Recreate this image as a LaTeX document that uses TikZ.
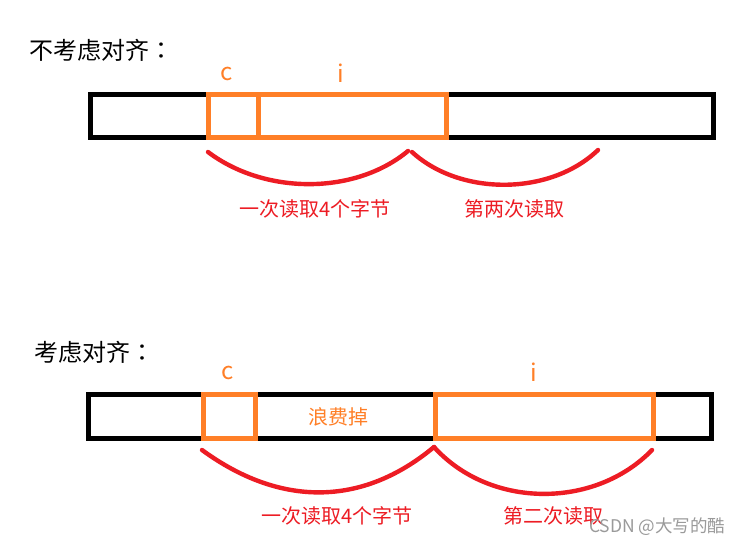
\documentclass[tikz,border=0pt]{standalone}
\usepackage{fontspec}
\setmainfont{Noto Sans CJK SC}
\newfontfamily\cjk{Noto Sans CJK SC}
\newfontfamily\cjktc{Noto Sans CJK TC}
\definecolor{porange}{HTML}{FF7F27}
\definecolor{pred}{HTML}{ED1C24}
\definecolor{wmgray}{HTML}{9A9A9A}
\tikzset{
  mem/.style={draw=black, line width=5pt},
  cell/.style={draw=porange, line width=4.6pt},
  brace/.style={draw=pred, line width=4.4pt, line cap=round},
  title/.style={font=\cjk\fontsize{24}{26}\selectfont, text=black, inner sep=0pt},
  var/.style={font=\cjk\fontsize{24}{26}\selectfont, text=porange, inner sep=0pt},
  note/.style={font=\cjk\fontsize{20}{22}\selectfont, text=pred, inner sep=0pt},
  waste/.style={font=\cjk\fontsize{20}{22}\selectfont, text=porange, inner sep=0pt},
}
\begin{document}
\begin{tikzpicture}[x=1pt,y=-1pt]
\useasboundingbox (0,0) rectangle (741,545);
\fill[white] (0,0) rectangle (741,545);

% ---------- top: no alignment ----------
\node[title, anchor=west] (t1) at (29,50) {不考虑对齐{\cjktc ：}};
\draw[mem] (90.5,94.5) rectangle (713.5,137.5);
\draw[cell] (208.5,94.5) rectangle (446.5,137.5);
\draw[cell] (258.5,94.5) -- (258.5,137.5);
\node[var] (c1) at (227,74) {c};
\node[var] (i1) at (341,73) {i};

\coordinate (a1) at (208,152);
\coordinate (b1) at (408,151);
\coordinate (a2) at (412,152);
\coordinate (b2) at (598,150);
\draw[brace] (a1) .. controls (265,195) and (355,195) .. (b1);
\draw[brace] (a2) .. controls (460,196) and (550,196) .. (b2);
\node[note] (n1) at (315,209) {一次读取4个字节};
\node[note] (n2) at (514,209) {第两次读取};

% ---------- bottom: with alignment ----------
\node[title, anchor=west] (t2) at (34,352) {考虑对齐{\cjktc ：}};
\draw[mem] (88.5,394.5) rectangle (711.5,438.5);
\draw[cell] (203.5,394.5) rectangle (255.5,438.5);
\draw[cell] (435.5,394.5) rectangle (653.5,438.5);
\node[var] (c2) at (228,373) {c};
\node[var] (i2) at (534,372) {i};
\node[waste] (w) at (338,417) {浪费掉};

\coordinate (a3) at (202,450);
\coordinate (b3) at (434,447);
\coordinate (b4) at (652,450);
\draw[brace] (a3) .. controls (280,507) and (362,507) .. (b3);
\draw[brace] (b3) .. controls (490,509) and (595,509) .. (b4);
\node[note] (n3) at (337,516) {一次读取4个字节};
\node[note] (n4) at (553,516) {第二次读取};

\node[font=\cjk\fontsize{17.5}{19}\selectfont, text=wmgray, anchor=west, inner sep=0pt] (wm) at (589,527) {CSDN @大写的酷};
\end{tikzpicture}
\end{document}
